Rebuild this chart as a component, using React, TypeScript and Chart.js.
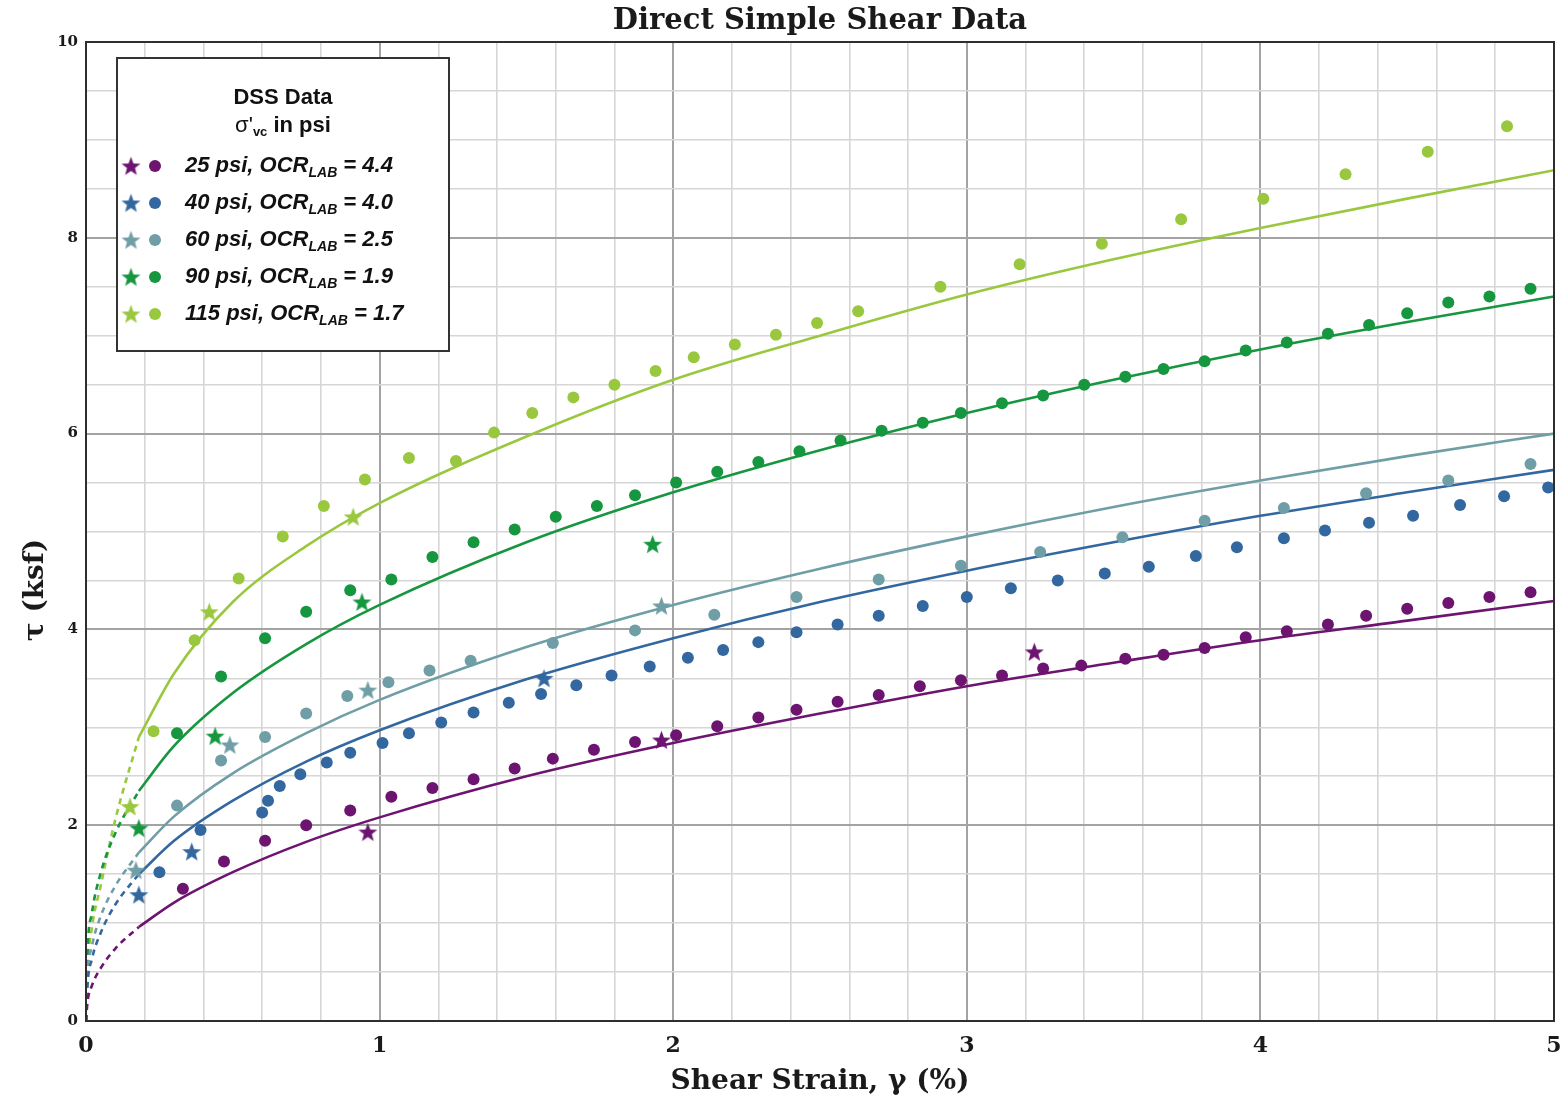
import React, { useEffect, useRef } from "react";
import { Chart, registerables } from "chart.js";

Chart.register(...registerables);

// ---- Fitted curves: solid part (strain %, tau ksf) ----
const fitStrain = [0.18, 0.3, 0.5, 0.75, 1, 1.5, 2, 2.5, 3, 3.5, 4, 4.5, 5];
const fit25 = [0.96, 1.21, 1.52, 1.83, 2.08, 2.5, 2.84, 3.14, 3.42, 3.66, 3.89, 4.09, 4.29];
const fit40 = [1.5, 1.84, 2.25, 2.65, 2.97, 3.49, 3.91, 4.28, 4.6, 4.89, 5.16, 5.4, 5.63];
const fit60 = [1.72, 2.09, 2.53, 2.94, 3.28, 3.82, 4.25, 4.62, 4.95, 5.25, 5.52, 5.77, 6.0];
const fit90 = [2.35, 2.81, 3.35, 3.85, 4.25, 4.89, 5.4, 5.83, 6.21, 6.55, 6.86, 7.14, 7.4];
const fit115 = [2.9, 3.55, 4.28, 4.85, 5.29, 5.97, 6.55, 7.0, 7.42, 7.78, 8.1, 8.4, 8.69];

// ---- Fitted curves: dashed extension toward the origin ----
const extStrain = [0, 0.005, 0.02, 0.05, 0.1, 0.18];
const ext25 = [0, 0.19, 0.36, 0.54, 0.74, 0.96];
const ext40 = [0, 0.36, 0.63, 0.9, 1.19, 1.5];
const ext60 = [0, 0.45, 0.76, 1.07, 1.38, 1.72];
const ext90 = [0, 0.68, 1.1, 1.51, 1.92, 2.35];
const ext115 = [0, 0.5, 0.95, 1.38, 2.06, 2.9];

// ---- Measured DSS data (strain %, tau ksf) ----
const dots25: number[][] = [
  [0.33, 1.35], [0.47, 1.63], [0.61, 1.84], [0.75, 2.0], [0.9, 2.15], [1.04, 2.29], [1.18, 2.38],
  [1.32, 2.47], [1.46, 2.58], [1.59, 2.68], [1.73, 2.77], [1.87, 2.85], [2.01, 2.92], [2.15, 3.01],
  [2.29, 3.1], [2.42, 3.18], [2.56, 3.26], [2.7, 3.33], [2.84, 3.42], [2.98, 3.48], [3.12, 3.53],
  [3.26, 3.6], [3.39, 3.63], [3.54, 3.7], [3.67, 3.74], [3.81, 3.81], [3.95, 3.92], [4.09, 3.98],
  [4.23, 4.05], [4.36, 4.14], [4.5, 4.21], [4.64, 4.27], [4.78, 4.33], [4.92, 4.38],
];
const stars25: number[][] = [[0.96, 1.93], [1.96, 2.87], [3.23, 3.77]];

const dots40: number[][] = [
  [0.25, 1.52], [0.39, 1.95], [0.6, 2.13], [0.62, 2.25], [0.66, 2.4], [0.73, 2.52], [0.82, 2.64],
  [0.9, 2.74], [1.01, 2.84], [1.1, 2.94], [1.21, 3.05], [1.32, 3.15], [1.44, 3.25], [1.55, 3.34],
  [1.67, 3.43], [1.79, 3.53], [1.92, 3.62], [2.05, 3.71], [2.17, 3.79], [2.29, 3.87], [2.42, 3.97],
  [2.56, 4.05], [2.7, 4.14], [2.85, 4.24], [3.0, 4.33], [3.15, 4.42], [3.31, 4.5], [3.47, 4.57],
  [3.62, 4.64], [3.78, 4.75], [3.92, 4.84], [4.08, 4.93], [4.22, 5.01], [4.37, 5.09], [4.52, 5.16],
  [4.68, 5.27], [4.83, 5.36], [4.98, 5.45],
];
const stars40: number[][] = [[0.18, 1.29], [0.36, 1.73], [1.56, 3.5]];

const dots60: number[][] = [
  [0.31, 2.2], [0.46, 2.66], [0.61, 2.9], [0.75, 3.14], [0.89, 3.32], [1.03, 3.46], [1.17, 3.58],
  [1.31, 3.68], [1.59, 3.86], [1.87, 3.99], [2.14, 4.15], [2.42, 4.33], [2.7, 4.51], [2.98, 4.65],
  [3.25, 4.79], [3.53, 4.94], [3.81, 5.11], [4.08, 5.24], [4.36, 5.39], [4.64, 5.52], [4.92, 5.69],
];
const stars60: number[][] = [[0.17, 1.54], [0.49, 2.82], [0.96, 3.38], [1.96, 4.24]];

const dots90: number[][] = [
  [0.31, 2.94], [0.46, 3.52], [0.61, 3.91], [0.75, 4.18], [0.9, 4.4], [1.04, 4.51], [1.18, 4.74],
  [1.32, 4.89], [1.46, 5.02], [1.6, 5.15], [1.74, 5.26], [1.87, 5.37], [2.01, 5.5], [2.15, 5.61],
  [2.29, 5.71], [2.43, 5.82], [2.57, 5.93], [2.71, 6.03], [2.85, 6.11], [2.98, 6.21], [3.12, 6.31],
  [3.26, 6.39], [3.4, 6.5], [3.54, 6.58], [3.67, 6.66], [3.81, 6.74], [3.95, 6.85], [4.09, 6.93],
  [4.23, 7.02], [4.37, 7.11], [4.5, 7.23], [4.64, 7.34], [4.78, 7.4], [4.92, 7.48],
];
const stars90: number[][] = [[0.18, 1.97], [0.44, 2.91], [0.94, 4.28], [1.93, 4.87]];

const dots115: number[][] = [
  [0.23, 2.96], [0.37, 3.89], [0.52, 4.52], [0.67, 4.95], [0.81, 5.26], [0.95, 5.53], [1.1, 5.75],
  [1.26, 5.72], [1.39, 6.01], [1.52, 6.21], [1.66, 6.37], [1.8, 6.5], [1.94, 6.64], [2.07, 6.78],
  [2.21, 6.91], [2.35, 7.01], [2.49, 7.13], [2.63, 7.25], [2.91, 7.5], [3.18, 7.73], [3.46, 7.94],
  [3.73, 8.19], [4.01, 8.4], [4.29, 8.65], [4.57, 8.88], [4.84, 9.14],
];
const stars115: number[][] = [[0.15, 2.19], [0.42, 4.18], [0.91, 5.15]];

// ---- Series labels and colours ----
const stressLabels = ["25 psi", "40 psi", "60 psi", "90 psi", "115 psi"];
const ocrLabels = ["4.4", "4.0", "2.5", "1.9", "1.7"];
const seriesColors = ["#6c1470", "#33679f", "#6f9ea6", "#15963f", "#99c83f"];

// ---- Axis ticks ----
const xTickLabels = [0, 1, 2, 3, 4, 5];
const yTickLabels = [0, 2, 4, 6, 8, 10];

const series = [
  { dots: dots25, stars: stars25, fit: fit25, ext: ext25 },
  { dots: dots40, stars: stars40, fit: fit40, ext: ext40 },
  { dots: dots60, stars: stars60, fit: fit60, ext: ext60 },
  { dots: dots90, stars: stars90, fit: fit90, ext: ext90 },
  { dots: dots115, stars: stars115, fit: fit115, ext: ext115 },
].map((s, i) => ({ ...s, color: seriesColors[i], label: stressLabels[i], ocr: ocrLabels[i] }));

const SERIF = "'DejaVu Serif', serif";
const SANS = "'Liberation Sans', Arial, sans-serif";
const MINOR_GRID = "#d6d6d6";
const MAJOR_GRID = "#a3a3a3";

function makeStar(color: string, size: number): HTMLCanvasElement {
  const c = document.createElement("canvas");
  c.width = size;
  c.height = size;
  const g = c.getContext("2d")!;
  const cx = size / 2;
  const cy = size / 2 + 0.8;
  const R = size / 2 - 0.5;
  const r = R * 0.42;
  g.beginPath();
  for (let i = 0; i < 10; i++) {
    const ang = -Math.PI / 2 + (i * Math.PI) / 5;
    const rad = i % 2 === 0 ? R : r;
    const px = cx + rad * Math.cos(ang);
    const py = cy + rad * Math.sin(ang);
    if (i === 0) g.moveTo(px, py);
    else g.lineTo(px, py);
  }
  g.closePath();
  g.fillStyle = color;
  g.fill();
  return c;
}

const toPoints = (pairs: number[][]) => pairs.map(([x, y]) => ({ x, y }));
const zipPoints = (xs: number[], ys: number[]) => xs.map((x, i) => ({ x, y: ys[i] }));
const isWhole = (v: number, step: number) => Math.abs(v / step - Math.round(v / step)) < 1e-6;

type Part = { text: string; font: string; dy: number };

function drawParts(ctx: CanvasRenderingContext2D, parts: Part[], x: number, y: number, center: boolean) {
  let total = 0;
  for (const p of parts) {
    ctx.font = p.font;
    total += ctx.measureText(p.text).width;
  }
  let cx = center ? x - total / 2 : x;
  ctx.textAlign = "left";
  ctx.textBaseline = "middle";
  for (const p of parts) {
    ctx.font = p.font;
    ctx.fillText(p.text, cx, y + p.dy);
    cx += ctx.measureText(p.text).width;
  }
}

export default function App() {
  const canvasRef = useRef<HTMLCanvasElement | null>(null);

  useEffect(() => {
    const canvas = canvasRef.current;
    if (!canvas) return;
    const starImgs = series.map((s) => makeStar(s.color, 21));

    const datasets: any[] = [];
    series.forEach((s, i) => {
      datasets.push({
        data: toPoints(s.stars),
        pointStyle: starImgs[i],
        pointRadius: 9,
        showLine: false,
      });
      datasets.push({
        data: toPoints(s.dots),
        pointStyle: "circle",
        pointRadius: 6,
        backgroundColor: s.color,
        borderColor: s.color,
        borderWidth: 0,
        showLine: false,
      });
    });
    series.forEach((s) => {
      datasets.push({
        data: zipPoints(fitStrain, s.fit),
        showLine: true,
        pointRadius: 0,
        borderColor: s.color,
        borderWidth: 2.6,
        cubicInterpolationMode: "monotone",
        fill: false,
      });
      datasets.push({
        data: zipPoints(extStrain, s.ext),
        showLine: true,
        pointRadius: 0,
        borderColor: s.color,
        borderWidth: 2.6,
        borderDash: [6, 5],
        cubicInterpolationMode: "monotone",
        fill: false,
      });
    });

    const decorPlugin = {
      id: "decor",
      beforeDraw(chart: any) {
        const ctx = chart.ctx;
        ctx.save();
        ctx.fillStyle = "#ffffff";
        ctx.fillRect(0, 0, chart.width, chart.height);
        ctx.restore();
      },
      afterDatasetsDraw(chart: any) {
        const ctx: CanvasRenderingContext2D = chart.ctx;
        const a = chart.chartArea;
        ctx.save();
        // plot frame
        ctx.strokeStyle = "#2e2e2e";
        ctx.lineWidth = 2;
        ctx.strokeRect(a.left, a.top, a.right - a.left, a.bottom - a.top);

        // legend box
        const lx = 117, ly = 58, lw = 332, lh = 293;
        ctx.fillStyle = "#ffffff";
        ctx.fillRect(lx, ly, lw, lh);
        ctx.strokeStyle = "#333333";
        ctx.lineWidth = 2;
        ctx.strokeRect(lx, ly, lw, lh);
        ctx.fillStyle = "#111111";
        const mid = lx + lw / 2;
        drawParts(ctx, [{ text: "DSS Data", font: `bold 22px ${SANS}`, dy: 0 }], mid, 98, true);
        drawParts(
          ctx,
          [
            { text: "\u03C3'", font: `22px ${SANS}`, dy: 0 },
            { text: "vc", font: `bold 13px ${SANS}`, dy: 6 },
            { text: " in psi", font: `bold 22px ${SANS}`, dy: 0 },
          ],
          mid,
          126,
          true
        );
        const rowY = [166, 203, 240, 277, 314];
        series.forEach((s, i) => {
          const y = rowY[i];
          const img = starImgs[i];
          ctx.drawImage(img, 131 - img.width / 2, y - img.height / 2);
          ctx.beginPath();
          ctx.arc(155, y, 6, 0, Math.PI * 2);
          ctx.fillStyle = s.color;
          ctx.fill();
          ctx.fillStyle = "#111111";
          drawParts(
            ctx,
            [
              { text: `${s.label}, OCR`, font: `italic bold 22px ${SANS}`, dy: 0 },
              { text: "LAB", font: `italic bold 14px ${SANS}`, dy: 7 },
              { text: ` = ${s.ocr}`, font: `italic bold 22px ${SANS}`, dy: 0 },
            ],
            185,
            y,
            false
          );
        });
        ctx.restore();
      },
      afterDraw(chart: any) {
        const ctx: CanvasRenderingContext2D = chart.ctx;
        const a = chart.chartArea;
        const cx = (a.left + a.right) / 2;
        ctx.save();
        ctx.fillStyle = "#1a1a1a";
        ctx.textAlign = "center";
        ctx.textBaseline = "middle";
        ctx.font = `bold 29px ${SERIF}`;
        ctx.fillText("Direct Simple Shear Data", cx, 21);
        ctx.font = `bold 28px ${SERIF}`;
        ctx.fillText("Shear Strain, \u03B3 (%)", cx, 1082);
        ctx.translate(36, 590);
        ctx.rotate(-Math.PI / 2);
        ctx.fillText("\u03C4 (ksf)", 0, 0);
        ctx.restore();
      },
    };

    const chart = new Chart(canvas, {
      type: "scatter",
      data: { datasets },
      options: {
        responsive: false,
        animation: false,
        events: [],
        devicePixelRatio: 1,
        layout: { padding: { left: 0, top: 42, right: 9, bottom: 0 } },
        plugins: { legend: { display: false }, tooltip: { enabled: false }, title: { display: false } },
        scales: {
          x: {
            type: "linear",
            min: 0,
            max: 5,
            afterFit: (scale: any) => {
              scale.height = 84;
              scale.paddingLeft = 0;
              scale.paddingRight = 0;
            },
            border: { display: false },
            grid: {
              drawTicks: false,
              color: (c: any) => (c.tick && isWhole(c.tick.value, 1) ? MAJOR_GRID : MINOR_GRID),
              lineWidth: (c: any) => (c.tick && isWhole(c.tick.value, 1) ? 2 : 1.6),
            },
            ticks: {
              stepSize: 0.2,
              maxTicksLimit: 100,
              autoSkip: false,
              maxRotation: 0,
              padding: 12,
              color: "#1a1a1a",
              font: { family: SERIF, weight: "bold", size: 22 },
              callback: (v: any) => {
                const n = Number(v);
                const hit = xTickLabels.find((t) => Math.abs(t - n) < 1e-6);
                return hit === undefined ? "" : String(hit);
              },
            },
          },
          y: {
            type: "linear",
            min: 0,
            max: 10,
            afterFit: (scale: any) => {
              scale.width = 86;
              scale.paddingTop = 0;
              scale.paddingBottom = 0;
            },
            border: { display: false },
            grid: {
              drawTicks: false,
              color: (c: any) => (c.tick && isWhole(c.tick.value, 2) ? MAJOR_GRID : MINOR_GRID),
              lineWidth: (c: any) => (c.tick && isWhole(c.tick.value, 2) ? 2 : 1.6),
            },
            ticks: {
              stepSize: 0.5,
              maxTicksLimit: 100,
              autoSkip: false,
              padding: 8,
              color: "#1a1a1a",
              font: { family: SERIF, weight: "bold", size: 15 },
              callback: (v: any) => {
                const n = Number(v);
                const hit = yTickLabels.find((t) => Math.abs(t - n) < 1e-6);
                return hit === undefined ? "" : String(hit);
              },
            },
          },
        },
      },
      plugins: [decorPlugin],
    } as any);

    return () => chart.destroy();
  }, []);

  return (
    <div style={{ position: "absolute", left: 0, top: 0, width: 1564, height: 1105, background: "#fff" }}>
      <canvas ref={canvasRef} width={1564} height={1105} />
    </div>
  );
}
